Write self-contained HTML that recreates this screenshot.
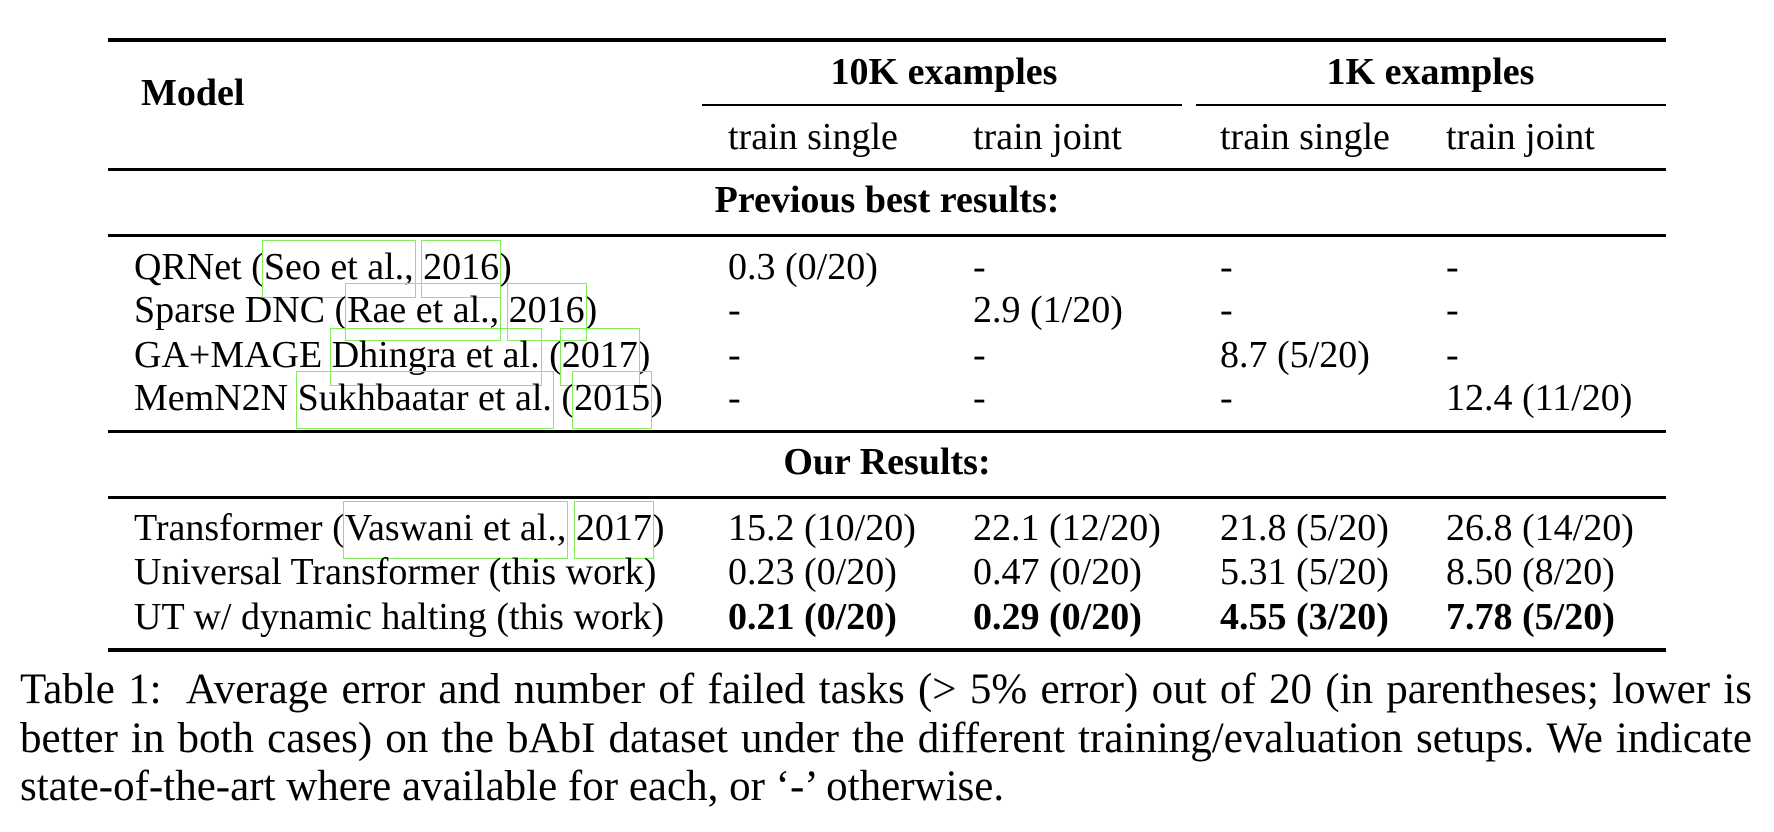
<!DOCTYPE html>
<html><head><meta charset="utf-8"><style>
body{margin:0;width:1774px;height:832px;background:#fff;position:relative;overflow:hidden;font-family:"Liberation Serif",serif;color:#000}
.t{position:absolute;font-size:38px;line-height:40px;white-space:nowrap}
.b{font-weight:bold}
.r{position:absolute;background:#000}
.c{position:relative}
.c::after{content:'';position:absolute;left:-2px;right:-2px;top:-6px;bottom:-10px;border:1.5px solid #82ee5e}
.cap{position:absolute;left:20px;font-size:43px;line-height:48px;white-space:nowrap}
.j{width:1732px;text-align:justify;text-align-last:justify}
</style></head><body>
<div class="r" style="left:108px;top:38px;width:1558px;height:4px"></div>
<div class="t b" style="left:141px;top:73px">Model</div>
<div class="t b" style="left:705px;width:478px;text-align:center;top:52px">10K examples</div>
<div class="t b" style="left:1195px;width:471px;text-align:center;top:52px">1K examples</div>
<div class="r" style="left:702px;top:104px;width:480px;height:1.5px"></div>
<div class="r" style="left:1196px;top:104px;width:470px;height:1.5px"></div>
<div class="t" style="left:728px;top:117px">train single</div>
<div class="t" style="left:973px;top:117px">train joint</div>
<div class="t" style="left:1220px;top:117px">train single</div>
<div class="t" style="left:1446px;top:117px">train joint</div>
<div class="r" style="left:108px;top:168px;width:1558px;height:3px"></div>
<div class="t b" style="left:108px;width:1558px;text-align:center;top:180px">Previous best results:</div>
<div class="r" style="left:108px;top:234px;width:1558px;height:3px"></div>

<div class="t" style="left:134px;top:247px">QRNet (<span class="c">Seo et al.,</span> <span class="c">2016</span>)</div>
<div class="t" style="left:134px;top:290px">Sparse DNC (<span class="c">Rae et al.,</span> <span class="c">2016</span>)</div>
<div class="t" style="left:134px;top:335px">GA+MAGE <span class="c">Dhingra et al.</span> (<span class="c">2017</span>)</div>
<div class="t" style="left:134px;top:378px">MemN2N <span class="c">Sukhbaatar et al.</span> (<span class="c">2015</span>)</div>

<div class="t" style="left:728px;top:247px">0.3 (0/20)</div>
<div class="t" style="left:973px;top:247px">-</div>
<div class="t" style="left:1220px;top:247px">-</div>
<div class="t" style="left:1446px;top:247px">-</div>
<div class="t" style="left:728px;top:290px">-</div>
<div class="t" style="left:973px;top:290px">2.9 (1/20)</div>
<div class="t" style="left:1220px;top:290px">-</div>
<div class="t" style="left:1446px;top:290px">-</div>
<div class="t" style="left:728px;top:335px">-</div>
<div class="t" style="left:973px;top:335px">-</div>
<div class="t" style="left:1220px;top:335px">8.7 (5/20)</div>
<div class="t" style="left:1446px;top:335px">-</div>
<div class="t" style="left:728px;top:378px">-</div>
<div class="t" style="left:973px;top:378px">-</div>
<div class="t" style="left:1220px;top:378px">-</div>
<div class="t" style="left:1446px;top:378px">12.4 (11/20)</div>

<div class="r" style="left:108px;top:430px;width:1558px;height:3px"></div>
<div class="t b" style="left:108px;width:1558px;text-align:center;top:442px">Our Results:</div>
<div class="r" style="left:108px;top:496px;width:1558px;height:3px"></div>

<div class="t" style="left:134px;top:508px">Transformer (<span class="c">Vaswani et al.,</span> <span class="c">2017</span>)</div>
<div class="t" style="left:134px;top:552px">Universal Transformer (this work)</div>
<div class="t" style="left:134px;top:597px">UT w/ dynamic halting (this work)</div>

<div class="t" style="left:728px;top:508px">15.2 (10/20)</div>
<div class="t" style="left:973px;top:508px">22.1 (12/20)</div>
<div class="t" style="left:1220px;top:508px">21.8 (5/20)</div>
<div class="t" style="left:1446px;top:508px">26.8 (14/20)</div>
<div class="t" style="left:728px;top:552px">0.23 (0/20)</div>
<div class="t" style="left:973px;top:552px">0.47 (0/20)</div>
<div class="t" style="left:1220px;top:552px">5.31 (5/20)</div>
<div class="t" style="left:1446px;top:552px">8.50 (8/20)</div>
<div class="t b" style="left:728px;top:597px">0.21 (0/20)</div>
<div class="t b" style="left:973px;top:597px">0.29 (0/20)</div>
<div class="t b" style="left:1220px;top:597px">4.55 (3/20)</div>
<div class="t b" style="left:1446px;top:597px">7.78 (5/20)</div>

<div class="r" style="left:108px;top:648px;width:1558px;height:4px"></div>

<div class="cap j" style="top:666px">Table 1:&nbsp; Average error and number of failed tasks (&gt; 5% error) out of 20 (in parentheses; lower is</div>
<div class="cap j" style="top:715px">better in both cases) on the bAbI dataset under the different training/evaluation setups. We indicate</div>
<div class="cap" style="top:763px">state-of-the-art where available for each, or ‘-’ otherwise.</div>
</body></html>
